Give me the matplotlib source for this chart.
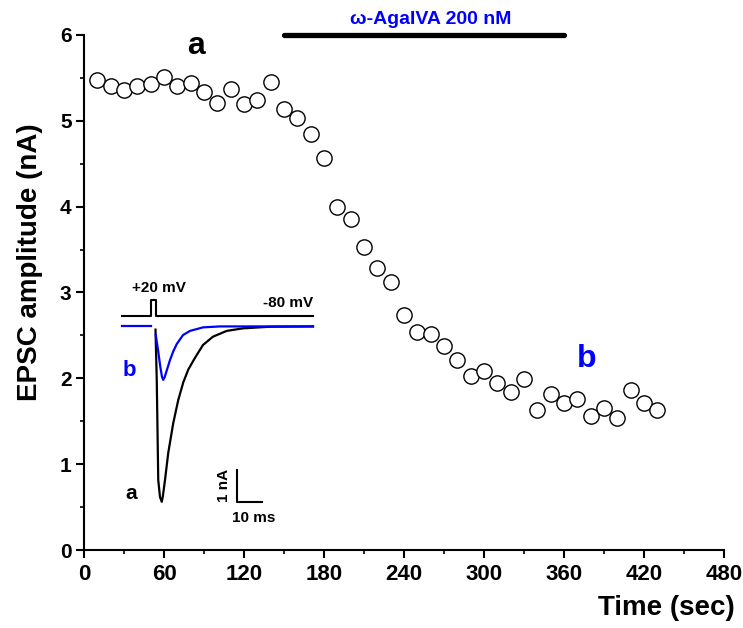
import matplotlib
matplotlib.use('Agg')
import matplotlib.pyplot as plt
from matplotlib import font_manager
from matplotlib.ticker import MultipleLocator

# EPSC amplitude time course
time_sec = [10, 20, 30, 40, 50, 60, 70, 80, 90, 100, 110, 120, 130, 140, 150,
            160, 170, 180, 190, 200, 210, 220, 230, 240, 250, 260, 270, 280,
            290, 300, 310, 320, 330, 340, 350, 360, 370, 380, 390, 400, 410,
            420, 430]
epsc_nA = [5.48, 5.40, 5.36, 5.40, 5.43, 5.51, 5.41, 5.44, 5.33, 5.21, 5.37,
           5.20, 5.24, 5.45, 5.14, 5.03, 4.85, 4.57, 4.00, 3.86, 3.53, 3.29,
           3.12, 2.74, 2.54, 2.52, 2.38, 2.21, 2.03, 2.09, 1.95, 1.84, 1.99,
           1.63, 1.82, 1.71, 1.76, 1.56, 1.65, 1.54, 1.86, 1.71, 1.63]

drug_label = 'ω-AgaIVA 200 nM'
drug_start, drug_end = 150, 360

# inset traces (ms, nA)
trace_a_ms = [13.4, 13.9, 14.5, 15.2, 15.9, 16.3, 17.2, 18.5, 20.5, 22.5,
              24.5, 26.5, 29.2, 32.4, 36.4, 41.9, 48.4, 59.2, 76.4]
trace_a_nA = [-0.10, -1.67, -4.80, -5.33, -5.48, -5.33, -4.80, -3.95, -3.02,
              -2.30, -1.75, -1.35, -0.98, -0.58, -0.32, -0.14, -0.06, -0.01, 0.0]
trace_b_ms = [13.5, 14.4, 15.3, 16.0, 16.5, 17.1, 17.8, 19.2, 20.5, 21.9,
              24.4, 27.2, 32.4, 39.2, 76.4]
trace_b_nA = [-0.27, -0.73, -1.25, -1.58, -1.67, -1.58, -1.40, -1.05, -0.78,
              -0.55, -0.27, -0.14, -0.03, 0.0, 0.0]
baseline_b_ms = [0, 11.6]
baseline_b_nA = [0, 0]
cmd_ms = [0, 11.6, 11.6, 13.5, 13.5, 76.4]
cmd_mV = [-80, -80, 20, 20, -80, -80]

names = {f.name for f in font_manager.fontManager.ttflist}
narrow = 'Liberation Sans Narrow' if 'Liberation Sans Narrow' in names else 'Liberation Sans'

plt.rcParams['font.family'] = ['Liberation Sans', 'DejaVu Sans']
plt.rcParams['font.weight'] = 'bold'

BLUE = '#0000ff'

fig = plt.figure(figsize=(7.43, 6.28), dpi=100)
ax = fig.add_axes([0.1131, 0.1242, 0.8613, 0.8201])

ax.plot(time_sec, epsc_nA, 'o', markersize=11, markerfacecolor='white',
        markeredgecolor='black', markeredgewidth=1.0, clip_on=False)

ax.set_xlim(0, 480)
ax.set_ylim(0, 6)
ax.xaxis.set_major_locator(MultipleLocator(60))
ax.xaxis.set_minor_locator(MultipleLocator(30))
ax.yaxis.set_major_locator(MultipleLocator(1))
ax.yaxis.set_minor_locator(MultipleLocator(0.5))
for s in ['top', 'right']:
    ax.spines[s].set_visible(False)
for s in ['left', 'bottom']:
    ax.spines[s].set_linewidth(1.5)
ax.tick_params(which='major', direction='out', length=6, width=1.5)
ax.tick_params(which='minor', direction='out', length=3, width=1.2)
ax.tick_params(axis='y', labelsize=15, pad=3)
ax.tick_params(axis='x', labelsize=16, pad=4)
for lbl in ax.get_xticklabels():
    lbl.set_family(narrow)

# drug application bar
ax.plot([drug_start, drug_end], [6.0, 6.0], color='black', lw=3.8,
        solid_capstyle='round', clip_on=False)
ax.text((drug_start + drug_end) / 2 + 5, 6.18, drug_label, color=BLUE,
        fontsize=14, ha='center', va='center')
ax.text(84, 5.87, 'a', fontsize=23, ha='center', va='center')
ax.text(377, 2.22, 'b', fontsize=23, color=BLUE, ha='center', va='center')

fig.text(30 / 743, 1 - 262 / 628, 'EPSC amplitude (nA)', rotation=90,
         fontsize=20, ha='center', va='center')
fig.text(735 / 743, 1 - 608 / 628, 'Time (sec)', fontsize=20,
         ha='right', va='center')

# inset with sample traces
ins = fig.add_axes([110 / 743, 98 / 628, 220 / 743, 250 / 628])
ins.set_xlim(-4.8, 83.2)
ins.set_ylim(-6.36, 1.45)
ins.axis('off')
ins.patch.set_alpha(0)

cmd_y = [0.33 + (v + 80) * 0.0048 for v in cmd_mV]
ins.plot(cmd_ms, cmd_y, color='black', lw=1.5)
ins.plot(trace_a_ms, trace_a_nA, color='black', lw=1.6)
ins.plot(baseline_b_ms, baseline_b_nA, color=BLUE, lw=1.6)
ins.plot(trace_b_ms, trace_b_nA, color=BLUE, lw=1.6)

ins.text(14.8, 1.2, '+20 mV', fontsize=11, ha='center', va='center')
ins.text(76.4, 0.73, '-80 mV', fontsize=11, ha='right', va='center')
ins.text(2.8, -1.39, 'b', fontsize=16, color=BLUE, ha='center', va='center')
ins.text(3.6, -5.23, 'a', fontsize=15, ha='center', va='center')

# scale bar: 1 nA, 10 ms
ins.plot([45.9, 45.9, 55.9], [-4.49, -5.49, -5.49], color='black', lw=1.5)
ins.text(40.8, -4.98, '1 nA', rotation=90, fontsize=11, ha='center', va='center')
ins.text(52.8, -5.98, '10 ms', fontsize=11, ha='center', va='center')

fig.savefig('out.png', dpi=100)
